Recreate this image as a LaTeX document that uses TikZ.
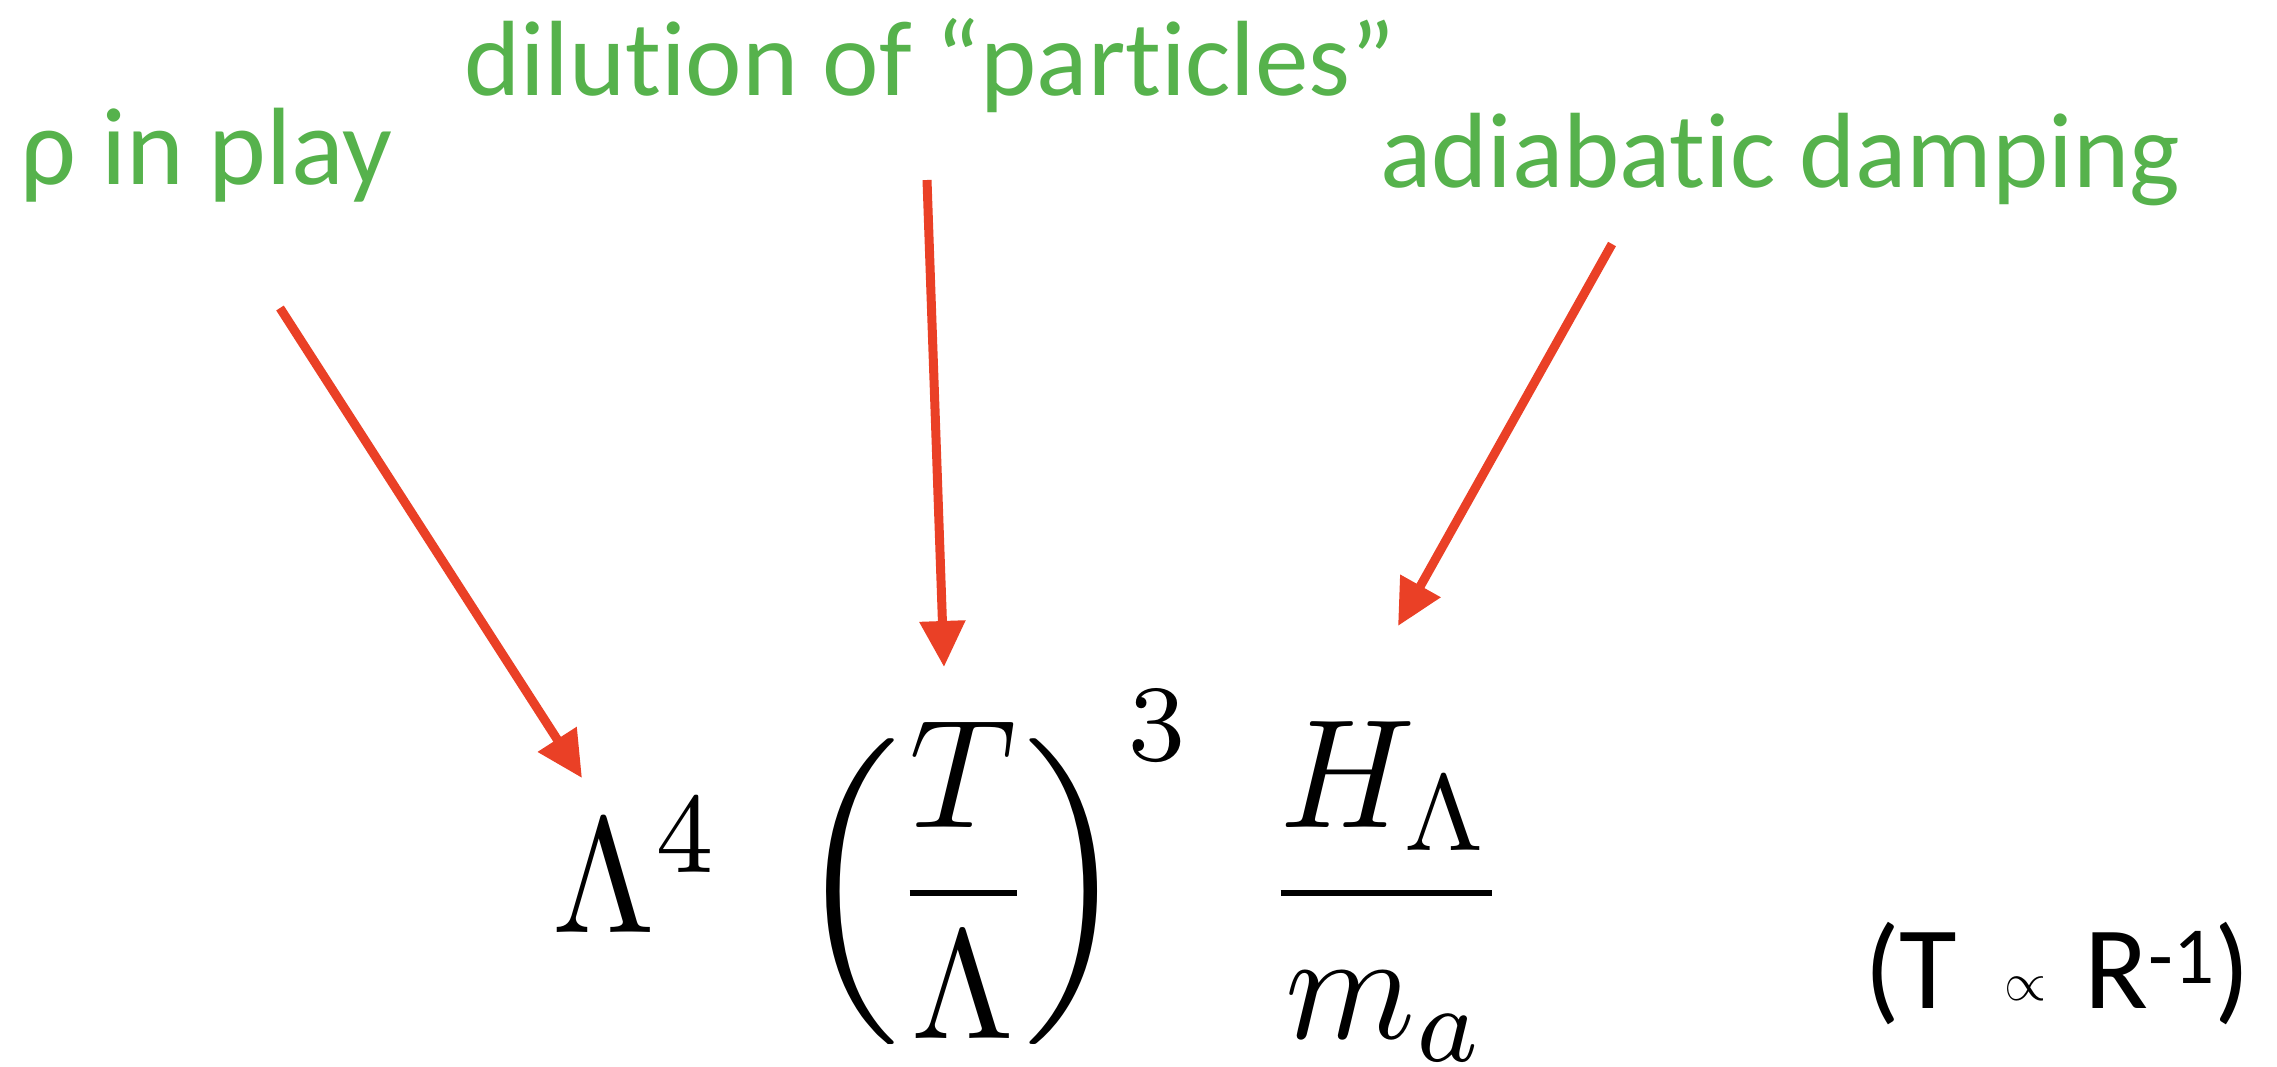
\documentclass[tikz,border=0pt]{standalone}
\usepackage{fontspec}
\usepackage{graphicx}
\newfontfamily\gill[Ligatures={NoCommon}]{Carlito}
\usetikzlibrary{arrows.meta}
\definecolor{lblgreen}{RGB}{86,178,76}
\definecolor{arrred}{RGB}{234,64,38}
\tikzset{
  lbl/.style={anchor=base west, inner sep=0pt, text=lblgreen, font=\gill\fontsize{107}{120}\selectfont},
  eqpart/.style={anchor=base west, inner sep=0pt},
  redarrow/.style={draw=arrred, line width=9pt, -{Triangle[length=46pt,width=44pt]}},
}
\begin{document}
\begin{tikzpicture}[x=1pt,y=-1pt]
\useasboundingbox[fill=white] (0,0) rectangle (2277,1066);

% labels
\node[lbl, font=\gill\fontsize{110}{120}\selectfont] (rho) at (20,184) {ρ in play};
\node[lbl] (dil) at (464,95) {dilution of “particles”};
\node[lbl] (adi) at (1380,187) {adiabatic damping};

% equation parts
\node[eqpart, xscale=14.8, yscale=16.4] (lam) at (550,932) {$\Lambda^4$};
\node[eqpart, xscale=17.8, yscale=17] (lpar) at (791,934.5) {$\Big($};
\node[eqpart, xscale=14.8, yscale=15.5] (frac) at (889,932) {$\displaystyle\frac{T}{\Lambda}$};
\node[eqpart, xscale=17.8, yscale=17] (rpar) at (1020,934.5) {$\Big)$};
\node[eqpart, xscale=14.8, yscale=15.5] (cube) at (1125,760) {$\scriptstyle 3$};
\node[eqpart, xscale=14.8, yscale=15.5] (hm) at (1260,932) {$\displaystyle\frac{H_\Lambda}{m_a}$};

% proportionality note
\node[anchor=base west, inner sep=0pt, font=\gill\fontsize{118}{130}\selectfont] (prop) at (1864,1008)
  {(T\hspace{47pt}\raisebox{8pt}{\scalebox{5.4}{\fontsize{10}{12}\selectfont$\propto$}}\hspace{38pt}R\raisebox{25pt}{\fontsize{81}{90}\selectfont -1})};

% arrows
\coordinate (a1s) at (280,308);
\coordinate (a1e) at (582,778);
\coordinate (a2s) at (927,180);
\coordinate (a2e) at (944,667);
\coordinate (a3s) at (1612,244);
\coordinate (a3e) at (1398,626);
\draw[redarrow] (a1s) -- (a1e);
\draw[redarrow] (a2s) -- (a2e);
\draw[redarrow] (a3s) -- (a3e);
\end{tikzpicture}
\end{document}
